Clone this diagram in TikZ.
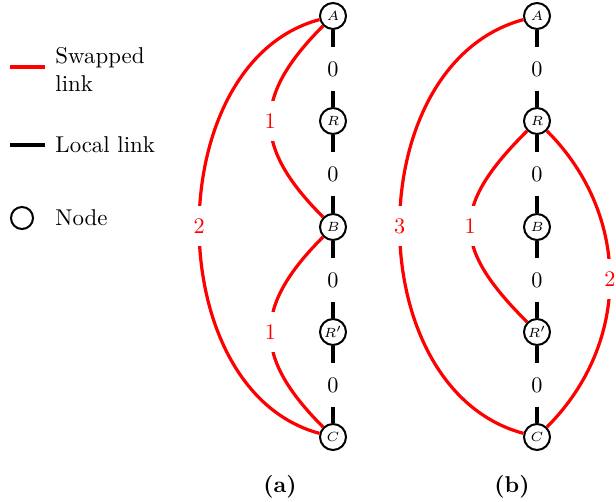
\documentclass[tikz,border=0pt]{standalone}
\usepackage{amsmath}
\tikzset{
	host/.style={circle, draw, line width=0.9pt, minimum size=11.7pt, inner sep=0pt, font=\fontsize{6.5}{7}\selectfont},
	hop/.style={inner sep=0pt, minimum height=19pt, font=\normalsize},
	locallink/.style={line width=1.6pt},
	swaplink/.style={red, line width=1.45pt},
	swaplabel/.style={fill=white, inner sep=1pt, minimum height=18pt, text=red, font=\normalsize},
	legendtext/.style={anchor=west, inner sep=0pt, align=left, font=\fontsize{10.3}{12.6}\selectfont},
}

\begin{document}
\begin{tikzpicture}[x=0.45pt, y=0.45pt]
		\useasboundingbox (0, 0) rectangle (616, 502);
		% legend
		\coordinate (swapL) at (10, 435);
		\coordinate (swapR) at (45, 435);
		\draw[swaplink] (swapL) -- (swapR);
		\node[legendtext] (swaptext) at (55, 433) {Swapped\\link};
		\coordinate (localL) at (10, 357);
		\coordinate (localR) at (45, 357);
		\draw[locallink] (localL) -- (localR);
		\node[legendtext] (localtext) at (55, 357) {Local link};
		\node[host, minimum size=9.9pt] (hostkey) at (22, 284) {};
		\node[legendtext] (hosttext) at (55, 284) {Node};

		% (a)
		\node[host] (A1) at (333, 486) {$A$};
		\node[host] (R1) at (333, 381) {$R$};
		\node[host] (B1) at (333, 275) {$B$};
		\node[host] (Rp1) at (333, 170) {$R'$};
		\node[host] (C1) at (333, 65) {$C$};
		\node[hop] (h1a) at (333, 433) {0};
		\node[hop] (h2a) at (333, 328) {0};
		\node[hop] (h3a) at (333, 222) {0};
		\node[hop] (h4a) at (333, 117) {0};
		\draw[locallink] (A1) -- (h1a) (h1a) -- (R1);
		\draw[locallink] (R1) -- (h2a) (h2a) -- (B1);
		\draw[locallink] (B1) -- (h3a) (h3a) -- (Rp1);
		\draw[locallink] (Rp1) -- (h4a) (h4a) -- (C1);
		\draw[swaplink] (A1) to[out=225, in=135, looseness=1.34] node[swaplabel]{1} (B1);
		\draw[swaplink] (B1) to[out=225, in=135, looseness=1.34] node[swaplabel]{1} (C1);
		\draw[swaplink] (A1) to[out=195, in=165, looseness=1.03] node[swaplabel]{2} (C1);
		\node[font=\fontsize{10.3}{12.6}\selectfont\bfseries] (capa) at (280, 15) {(a)};

		% (b)
		\node[host] (A2) at (537, 486) {$A$};
		\node[host] (R2) at (537, 381) {$R$};
		\node[host] (B2) at (537, 275) {$B$};
		\node[host] (Rp2) at (537, 170) {$R'$};
		\node[host] (C2) at (537, 65) {$C$};
		\node[hop] (h1b) at (537, 433) {0};
		\node[hop] (h2b) at (537, 328) {0};
		\node[hop] (h3b) at (537, 222) {0};
		\node[hop] (h4b) at (537, 117) {0};
		\draw[locallink] (A2) -- (h1b) (h1b) -- (R2);
		\draw[locallink] (R2) -- (h2b) (h2b) -- (B2);
		\draw[locallink] (B2) -- (h3b) (h3b) -- (Rp2);
		\draw[locallink] (Rp2) -- (h4b) (h4b) -- (C2);
		\draw[swaplink] (R2) to[out=225, in=135, looseness=1.44] node[swaplabel]{1} (Rp2);
		\draw[swaplink] (R2) to[out=-45, in=45, looseness=1.03] node[swaplabel]{2} (C2);
		\draw[swaplink] (A2) to[out=195, in=165, looseness=1.06] node[swaplabel]{3} (C2);
		\node[font=\fontsize{10.3}{12.6}\selectfont\bfseries] (capb) at (512, 15) {(b)};
\end{tikzpicture}
\end{document}
